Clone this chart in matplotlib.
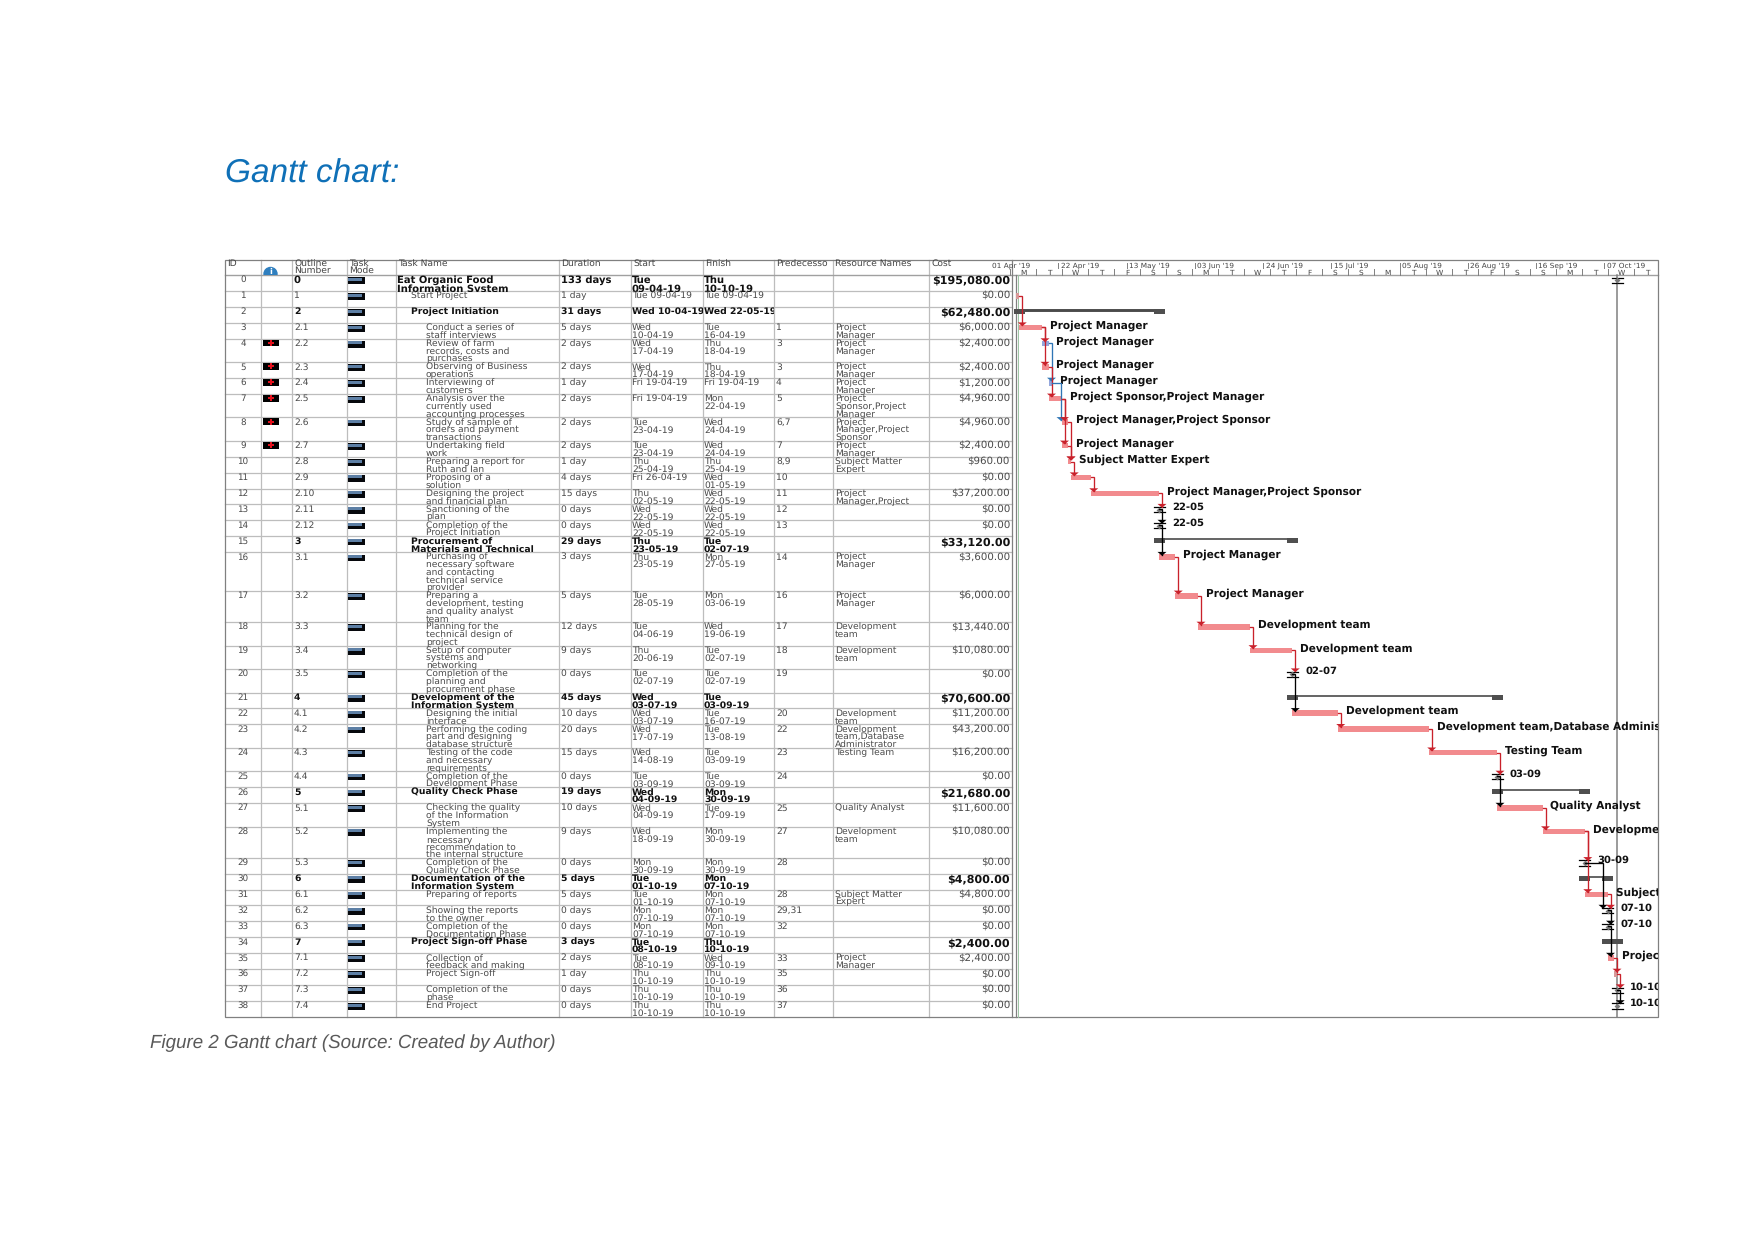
from datetime import date
import matplotlib
matplotlib.use('Agg')
import matplotlib.pyplot as plt
from matplotlib.patches import Rectangle, Circle
from matplotlib.transforms import Bbox, TransformedBbox

plt.rcParams['text.hinting'] = 'none'

# --- table data ---
outline = ['0', '1', '2', '2.1', '2.2', '2.3', '2.4', '2.5', '2.6', '2.7', '2.8', '2.9', '2.10', '2.11', '2.12',
           '3', '3.1', '3.2', '3.3', '3.4', '3.5', '4', '4.1', '4.2', '4.3', '4.4', '5', '5.1', '5.2', '5.3',
           '6', '6.1', '6.2', '6.3', '7', '7.1', '7.2', '7.3', '7.4']
names = ['Eat Organic Food\nInformation System', 'Start Project', 'Project Initiation',
         'Conduct a series of\nstaff interviews', 'Review of farm\nrecords, costs and\npurchases',
         'Observing of Business\noperations', 'Interviewing of\ncustomers',
         'Analysis over the\ncurrently used\naccounting processes',
         'Study of sample of\norders and payment\ntransactions', 'Undertaking field\nwork',
         'Preparing a report for\nRuth and Ian', 'Proposing of a\nsolution',
         'Designing the project\nand financial plan', 'Sanctioning of the\nplan',
         'Completion of the\nProject Initiation', 'Procurement of\nMaterials and Technical',
         'Purchasing of\nnecessary software\nand contacting\ntechnical service\nprovider',
         'Preparing a\ndevelopment, testing\nand quality analyst\nteam',
         'Planning for the\ntechnical design of\nproject', 'Setup of computer\nsystems and\nnetworking',
         'Completion of the\nplanning and\nprocurement phase', 'Development of the\nInformation System',
         'Designing the initial\ninterface', 'Performing the coding\npart and designing\ndatabase structure',
         'Testing of the code\nand necessary\nrequirements', 'Completion of the\nDevelopment Phase',
         'Quality Check Phase', 'Checking the quality\nof the Information\nSystem',
         'Implementing the\nnecessary\nrecommendation to\nthe internal structure',
         'Completion of the\nQuality Check Phase', 'Documentation of the\nInformation System',
         'Preparing of reports', 'Showing the reports\nto the owner', 'Completion of the\nDocumentation Phase',
         'Project Sign-off Phase', 'Collection of\nfeedback and making', 'Project Sign-off',
         'Completion of the\nphase', 'End Project']
durations = ['133 days', '1 day', '31 days', '5 days', '2 days', '2 days', '1 day', '2 days', '2 days', '2 days',
             '1 day', '4 days', '15 days', '0 days', '0 days', '29 days', '3 days', '5 days', '12 days', '9 days',
             '0 days', '45 days', '10 days', '20 days', '15 days', '0 days', '19 days', '10 days', '9 days',
             '0 days', '5 days', '5 days', '0 days', '0 days', '3 days', '2 days', '1 day', '0 days', '0 days']
starts = ['Tue\n09-04-19', 'Tue 09-04-19', 'Wed 10-04-19', 'Wed\n10-04-19', 'Wed\n17-04-19', 'Wed\n17-04-19',
          'Fri 19-04-19', 'Fri 19-04-19', 'Tue\n23-04-19', 'Tue\n23-04-19', 'Thu\n25-04-19', 'Fri 26-04-19',
          'Thu\n02-05-19', 'Wed\n22-05-19', 'Wed\n22-05-19', 'Thu\n23-05-19', 'Thu\n23-05-19', 'Tue\n28-05-19',
          'Tue\n04-06-19', 'Thu\n20-06-19', 'Tue\n02-07-19', 'Wed\n03-07-19', 'Wed\n03-07-19', 'Wed\n17-07-19',
          'Wed\n14-08-19', 'Tue\n03-09-19', 'Wed\n04-09-19', 'Wed\n04-09-19', 'Wed\n18-09-19', 'Mon\n30-09-19',
          'Tue\n01-10-19', 'Tue\n01-10-19', 'Mon\n07-10-19', 'Mon\n07-10-19', 'Tue\n08-10-19', 'Tue\n08-10-19',
          'Thu\n10-10-19', 'Thu\n10-10-19', 'Thu\n10-10-19']
finishes = ['Thu\n10-10-19', 'Tue 09-04-19', 'Wed 22-05-19', 'Tue\n16-04-19', 'Thu\n18-04-19', 'Thu\n18-04-19',
            'Fri 19-04-19', 'Mon\n22-04-19', 'Wed\n24-04-19', 'Wed\n24-04-19', 'Thu\n25-04-19', 'Wed\n01-05-19',
            'Wed\n22-05-19', 'Wed\n22-05-19', 'Wed\n22-05-19', 'Tue\n02-07-19', 'Mon\n27-05-19', 'Mon\n03-06-19',
            'Wed\n19-06-19', 'Tue\n02-07-19', 'Tue\n02-07-19', 'Tue\n03-09-19', 'Tue\n16-07-19', 'Tue\n13-08-19',
            'Tue\n03-09-19', 'Tue\n03-09-19', 'Mon\n30-09-19', 'Tue\n17-09-19', 'Mon\n30-09-19', 'Mon\n30-09-19',
            'Mon\n07-10-19', 'Mon\n07-10-19', 'Mon\n07-10-19', 'Mon\n07-10-19', 'Thu\n10-10-19', 'Wed\n09-10-19',
            'Thu\n10-10-19', 'Thu\n10-10-19', 'Thu\n10-10-19']
predecessors = ['', '', '', '1', '3', '3', '4', '5', '6,7', '7', '8,9', '10', '11', '12', '13', '', '14', '16',
                '17', '18', '19', '', '20', '22', '23', '24', '', '25', '27', '28', '', '28', '29,31', '32', '',
                '33', '35', '36', '37']
resources = ['', '', '', 'Project\nManager', 'Project\nManager', 'Project\nManager', 'Project\nManager',
             'Project\nSponsor,Project\nManager', 'Project\nManager,Project\nSponsor', 'Project\nManager',
             'Subject Matter\nExpert', '', 'Project\nManager,Project\nSponsor', '', '', '', 'Project\nManager',
             'Project\nManager', 'Development\nteam', 'Development\nteam', '', '', 'Development\nteam',
             'Development\nteam,Database\nAdministrator', 'Testing Team', '', '', 'Quality Analyst',
             'Development\nteam', '', '', 'Subject Matter\nExpert', '', '', '', 'Project\nManager', '', '', '']
costs = ['$195,080.00', '$0.00', '$62,480.00', '$6,000.00', '$2,400.00', '$2,400.00', '$1,200.00', '$4,960.00',
         '$4,960.00', '$2,400.00', '$960.00', '$0.00', '$37,200.00', '$0.00', '$0.00', '$33,120.00', '$3,600.00',
         '$6,000.00', '$13,440.00', '$10,080.00', '$0.00', '$70,600.00', '$11,200.00', '$43,200.00', '$16,200.00',
         '$0.00', '$21,680.00', '$11,600.00', '$10,080.00', '$0.00', '$4,800.00', '$4,800.00', '$0.00', '$0.00',
         '$2,400.00', '$2,400.00', '$0.00', '$0.00', '$0.00']
summary_ids = [0, 2, 15, 21, 26, 30, 34]
flagged_ids = [4, 5, 6, 7, 8, 9]
noncritical_ids = [4, 6]
muted_ids = [1, 36]
headers = ['ID', '', 'Outline\nNumber', 'Task\nMode', 'Task Name', 'Duration', 'Start', 'Finish', 'Predecesso',
           'Resource Names', 'Cost']
major_ticks = ["01 Apr '19", "22 Apr '19", "13 May '19", "03 Jun '19", "24 Jun '19", "15 Jul '19", "05 Aug '19",
               "26 Aug '19", "16 Sep '19", "07 Oct '19"]
minor_ticks = list('MTWTFSSMTWTFSSMTWTFSSMTWT')

# --- layout in reference pixels ---
W, H = 1754, 1241
col_x = [225, 261, 292, 347, 396, 559, 631, 703, 774, 833, 929, 1012]
pane_r = 1658
tbl_top, head_bot, tbl_bot = 260, 275, 1017
px_per_day = 3.25
day0 = date(2019, 4, 1)
x0_time = 990
GREY = '#bdbdbd'
DARK = '#808080'
BODY = 6.6

fig = plt.figure(figsize=(W / 100, H / 100), dpi=100)
ax = fig.add_axes([0, 0, 1, 1])
ax.set_xlim(0, W)
ax.set_ylim(H, 0)
ax.axis('off')


def day_x(d):
    return x0_time + (d - day0).days * px_per_day


def parse(s):
    dd, mm, yy = s.replace('\n', ' ').split()[-1].split('-')
    return date(2000 + int(yy), int(mm), int(dd))


def clipped(txt, x0, y0, x1, y1):
    txt.set_clip_box(TransformedBbox(Bbox([[x0, y0], [x1, y1]]), ax.transData))
    txt.set_clip_on(True)
    return txt


# row heights follow the number of wrapped lines in the task name
row_top = [head_bot]
row_lines = []
for nm in names:
    n_lines = max(nm.count('\n') + 1, 2)
    row_lines.append(n_lines)
    row_top.append(row_top[-1] + 7.6 * n_lines + 0.7)
row_top[-1] = tbl_bot

ax.text(225, 183, 'Gantt chart:', family='Liberation Sans', style='italic', fontsize=24, color='#0f70b7', va='baseline')
ax.text(150, 1043, 'Figure 2 Gantt chart (Source: Created by Author)', family='Liberation Sans', style='italic',
        fontsize=13.5, color='#595959', va='center')

# grid
for y in row_top[1:-1]:
    ax.plot([col_x[0], col_x[-1]], [y, y], color=GREY, lw=0.9, zorder=1)
for x in col_x[1:-1]:
    ax.plot([x, x], [tbl_top, tbl_bot], color=GREY, lw=0.9, zorder=1)
ax.plot([col_x[0], pane_r], [head_bot, head_bot], color='#a0a0a0', lw=1.0, zorder=1)
ax.add_patch(Rectangle((col_x[0], tbl_top), pane_r - col_x[0], tbl_bot - tbl_top, fill=False, ec=DARK, lw=0.9, zorder=2))
ax.plot([1012, 1012], [tbl_top, tbl_bot], color=DARK, lw=0.9, zorder=2)
ax.plot([1016, 1016], [head_bot, tbl_bot], color=DARK, lw=0.9, zorder=2)
ax.plot([1018, 1018], [head_bot, tbl_bot], color='#9cc5a4', lw=0.7, zorder=2)
ax.plot([1617, 1617], [head_bot, tbl_bot], color=DARK, lw=1.1, zorder=2)

# header
for i, label in enumerate(headers):
    ax.text(col_x[i] + 2, tbl_top - 1.2, label, fontsize=6.6, color='#444444', va='top', linespacing=0.85, zorder=3)
info = Circle((270.5, 274), 6.5, color='#2f7fbf', zorder=3)
ax.add_patch(info)
info.set_clip_path(Rectangle((255, 262), 30, 13, transform=ax.transData))
ax.text(270.5, 272, 'i', fontsize=6, color='white', fontweight='bold', ha='center', va='center', zorder=4)

# timescale
for k, label in enumerate(major_ticks):
    tx = x0_time + k * 21 * px_per_day
    if k > 0:
        ax.plot([tx, tx], [tbl_top + 3, 268], color=DARK, lw=0.7, zorder=2)
    ax.text(tx + 2.5, 265.5, label, fontsize=5.3, color='#444444', va='center', zorder=3)
for k, label in enumerate(minor_ticks):
    tx = 1010 + k * 8 * px_per_day
    ax.plot([tx, tx], [269, head_bot], color=DARK, lw=0.7, zorder=2)
    ax.text(tx + 13, 273, label, fontsize=5.3, color='#444444', ha='center', va='center', zorder=3)

# table cells
for i in range(len(names)):
    top, bot = row_top[i], row_top[i + 1]
    bold = i in summary_ids
    fw = 'bold' if bold else 'normal'
    fc = '#111111' if bold else '#4a4a4a'
    fs = 7.2 if i == 0 else (6.7 if bold else BODY)
    level = outline[i].count('.') + 1 if i else 0
    indent = [1, 15, 30][level]
    res_cell = '\n'.join(resources[i].split('\n')[:row_lines[i]])
    cells = [(str(i), 243, 'center', 0), (outline[i], col_x[2] + 2, 'left', 2), (names[i], col_x[4] + indent, 'left', 4),
             (durations[i], col_x[5] + 2, 'left', 5), (starts[i], col_x[6] + 1, 'left', 6),
             (finishes[i], col_x[7] + 1, 'left', 7), (predecessors[i], col_x[8] + 2, 'left', 8),
             (res_cell, col_x[9] + 2, 'left', 9)]
    for text, x, ha, c in cells:
        bold_here = fw if c != 0 else 'normal'
        t = ax.text(x, top + 0.5, text, fontsize=fs if c != 0 else 6.3, fontweight=bold_here,
                    color=fc if c != 0 else '#4a4a4a', ha=ha, va='top', linespacing=0.86, zorder=3)
        clipped(t, col_x[c], top, col_x[c + 1] - 0.5, bot + 1.5)
    ax.text(1010, top + 0.5, costs[i], fontsize=8 if bold else 7.4, fontweight=fw, color=fc, ha='right', va='top', zorder=3)
    # task mode icon
    ax.add_patch(Rectangle((348, top + 2.3), 17, 6.8, color='#06080c', lw=0, zorder=3))
    ax.add_patch(Rectangle((348, top + 2.8), 14, 3, color='#5d7fa5', lw=0, zorder=4))
    if i in flagged_ids:
        ax.add_patch(Rectangle((263, top + 1), 16, 6.8, color='black', lw=0, zorder=3))
        ax.plot(271, top + 4.4, marker='P', ms=4.6, color='#e3101c', mew=0, zorder=4)

# gantt marks
gantt_end = pane_r
start_x = [day_x(parse(s)) for s in starts]
end_x = [day_x(parse(s)) + px_per_day for s in finishes]
is_milestone = [d == '0 days' for d in durations]


def milestone_glyph(x, top):
    yc = top + 5.2
    ax.plot([x - 5.5, x + 5.5], [yc - 2.6, yc - 2.6], color='black', lw=0.9, zorder=6)
    ax.plot([x - 5.5, x + 5.5], [yc + 2.6, yc + 2.6], color='black', lw=0.9, zorder=6)
    ax.plot(x, yc, marker='D', ms=3, color='#7a7a7a', mew=0, zorder=6)


for i in range(1, len(names)):
    top = row_top[i]
    if i in summary_ids:
        lw = 2.1 if i == 2 else 1.2
        ax.plot([start_x[i], end_x[i]], [top + 3, top + 3], color='#4a4a4a', lw=lw, solid_capstyle='butt', zorder=5)
        for cx in (start_x[i], end_x[i]):
            ax.add_patch(Rectangle((cx - 5.5, top + 2), 11, 5, color='#4f4f4f', lw=0, zorder=5))
    elif is_milestone[i]:
        milestone_glyph(end_x[i], top)
        label = finishes[i].split('\n')[-1][:5]
        t = ax.text(end_x[i] + 13, top + 2.5, label, fontsize=7.2, fontweight='bold', color='#111111', va='center', zorder=7)
        clipped(t, 1018, top - 5, gantt_end, top + 12)
    else:
        color = '#f28b8e'
        if i in noncritical_ids:
            color = '#93a6dd'
        elif i in muted_ids:
            color = '#d89a9a'
        ax.add_patch(Rectangle((start_x[i], top + 2), end_x[i] - start_x[i], 5.6, color=color, lw=0, zorder=5))
        if resources[i]:
            t = ax.text(end_x[i] + 8, top + 2.7, resources[i].replace('\n', ' '), fontsize=7.6, fontweight='bold',
                        color='#111111', va='center', zorder=7)
            clipped(t, 1018, top - 5, gantt_end, top + 12)
milestone_glyph(end_x[0], row_top[0])

# dependency links, drawn from the predecessor column
for i, pred in enumerate(predecessors):
    if not pred:
        continue
    for p in pred.split(','):
        p = int(p)
        color = '#c9212b'
        if is_milestone[p]:
            color = 'black'
        elif p in noncritical_ids:
            color = '#2f75b5'
        drop = 3
        if p == 6:
            drop = -0.5
        if p == 29:
            drop = -4.5
        target_x = end_x[i] if is_milestone[i] else start_x[i]
        lx = target_x + drop
        y_from = row_top[p] + 4.8
        y_to = row_top[i] + (2.5 if not is_milestone[i] else 2.2)
        ax.plot([end_x[p], lx, lx], [y_from, y_from, y_to], color=color, lw=0.95, zorder=8, solid_joinstyle='miter')
        ax.fill([lx - 4.5, lx + 4.5, lx], [y_to - 2.8, y_to - 2.8, y_to + 1], color=color, lw=0, zorder=8)

fig.savefig('out.png', dpi=100)
